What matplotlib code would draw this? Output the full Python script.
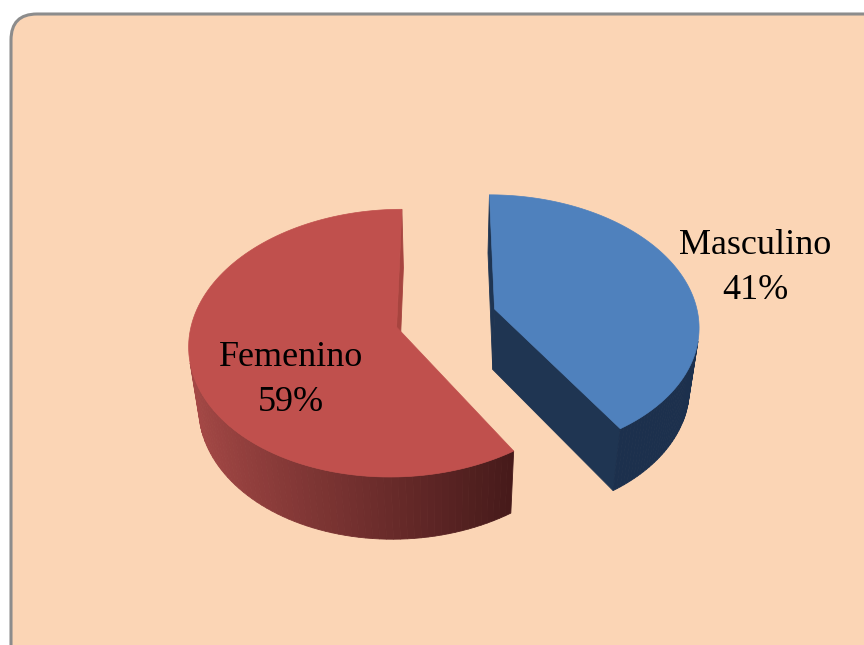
import numpy as np
import matplotlib
matplotlib.use("Agg")
import matplotlib.pyplot as plt
from matplotlib.patches import Polygon, FancyBboxPatch

# data
labels = ["Masculino", "Femenino"]
values = [41, 59]

# style
top_colors = ["#4F81BD", "#C0504D"]
cut_colors = ["#1F3552", "#A7443F"]
side_light = [(0.13, 0.22, 0.34), (0.66, 0.29, 0.28)]
side_dark = [(0.11, 0.19, 0.30), (0.27, 0.10, 0.10)]
label_xy = [(755, 268), (291, 380)]

W, H = 864, 645
ELEV = np.radians(39.5)
DIST = 6.5
SCALE = 204
CX, CY = 446, 318
EXPLODE = 0.25
THICK = 0.40
cam = np.array([0, -DIST * np.cos(ELEV), DIST * np.sin(ELEV)])


def project(pts):
    pts = np.asarray(pts, float)
    X, Y, Z = pts[:, 0], pts[:, 1], pts[:, 2]
    yv = Y * np.sin(ELEV) + Z * np.cos(ELEV)
    zv = Y * np.cos(ELEV) - Z * np.sin(ELEV)
    s = DIST / (DIST + zv)
    return np.column_stack([CX + SCALE * X * s, CY - SCALE * yv * s]), zv.mean()


def facing(pts, normal):
    p = np.mean(pts, axis=0)
    return np.dot(cam - p, normal) > 0


fig = plt.figure(figsize=(W / 100, H / 100), dpi=100)
ax = fig.add_axes([0, 0, 1, 1])
ax.set_xlim(0, W)
ax.set_ylim(H, 0)
ax.axis("off")

frame = FancyBboxPatch((11, 14), 890, 680, boxstyle="round,pad=0,rounding_size=26",
                       fc="#FBD5B5", ec="#8C8C8C", lw=2.2, zorder=0)
ax.add_patch(frame)

faces = []
tops = []
start = 90.0
total = sum(values)
for i, v in enumerate(values):
    t1 = np.radians(start)
    t2 = np.radians(start - v / total * 360)
    start -= v / total * 360
    mid = (t1 + t2) / 2
    ox, oy = EXPLODE * np.cos(mid), EXPLODE * np.sin(mid)
    ang = np.linspace(t1, t2, 120)
    rim = np.column_stack([ox + np.cos(ang), oy + np.sin(ang)])

    # top face
    top = [(ox, oy, 0)] + [(x, y, 0) for x, y in rim]
    tops.append((top, top_colors[i]))

    # outer wall
    for j in range(len(ang) - 1):
        a, b = ang[j], ang[j + 1]
        m = (a + b) / 2
        n = np.array([np.cos(m), np.sin(m), 0])
        q = [(rim[j][0], rim[j][1], 0), (rim[j + 1][0], rim[j + 1][1], 0),
             (rim[j + 1][0], rim[j + 1][1], -THICK), (rim[j][0], rim[j][1], -THICK)]
        if facing(np.array(q), n):
            t = np.clip((n[0] + 1) / 1.55, 0, 1)
            c = tuple((1 - t) * np.array(side_light[i]) + t * np.array(side_dark[i]))
            faces.append((q, c))

    # cut faces
    for th, sgn in [(t1, 1), (t2, -1)]:
        n = np.array([np.cos(th + sgn * np.pi / 2), np.sin(th + sgn * np.pi / 2), 0])
        rx, ry = ox + np.cos(th), oy + np.sin(th)
        q = [(ox, oy, 0), (rx, ry, 0), (rx, ry, -THICK), (ox, oy, -THICK)]
        if facing(np.array(q), n):
            faces.append((q, cut_colors[i]))

# draw far to near
drawn = []
for q, c in faces:
    xy, d = project(q)
    drawn.append((d, xy, c))
drawn.sort(key=lambda r: -r[0])
for d, xy, c in drawn:
    ax.add_patch(Polygon(xy, closed=True, fc=c, ec=c, lw=0.6, zorder=1))
for q, c in tops:
    xy, d = project(q)
    ax.add_patch(Polygon(xy, closed=True, fc=c, ec=c, lw=0.5, zorder=2))

for i, lab in enumerate(labels):
    x, y = label_xy[i]
    ax.text(x, y, f"{lab}\n{values[i]}%", ha="center", va="center", fontsize=26,
            family="Liberation Serif", linespacing=1.5, color="black", zorder=3)

fig.savefig("out.png", dpi=100)
